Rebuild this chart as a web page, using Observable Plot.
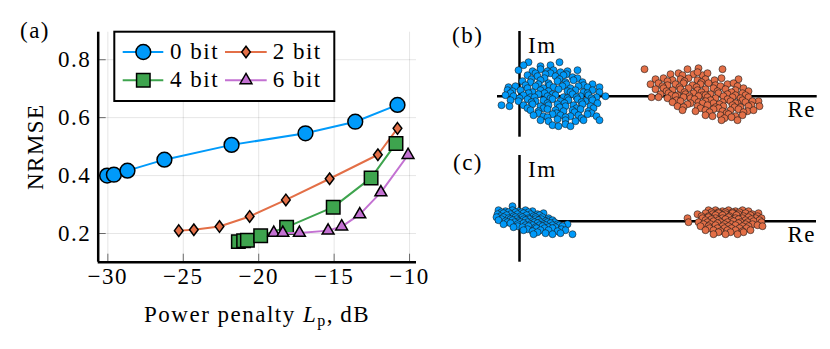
<!DOCTYPE html>
<html><head><meta charset="utf-8">
<script src="https://cdn.jsdelivr.net/npm/d3@7"></script>
<script src="https://cdn.jsdelivr.net/npm/@observablehq/plot@0.6"></script>
<style>
html,body{margin:0;padding:0;background:#fff;}
#fig{position:relative;width:830px;height:349px;overflow:hidden;background:#fff;}
</style></head><body><div id="fig"></div>
<script>
// ---------------- panel (a): NRMSE vs power penalty ----------------
const bitLabels = ["0 bit", "2 bit", "4 bit", "6 bit"];
const penalty0 = [-30.05, -29.6, -28.7, -26.25, -21.8, -16.9, -13.6, -10.8];
const nrmse0   = [0.400, 0.403, 0.417, 0.455, 0.506, 0.546, 0.586, 0.644];
const penalty2 = [-25.3, -24.3, -22.6, -20.6, -18.2, -15.3, -12.1, -10.8];
const nrmse2   = [0.210, 0.213, 0.224, 0.259, 0.316, 0.389, 0.472, 0.563];
const penalty4 = [-21.35, -21.0, -20.75, -19.87, -18.15, -15.06, -12.55, -10.9];
const nrmse4   = [0.172, 0.175, 0.177, 0.192, 0.222, 0.291, 0.392, 0.511];
const penalty6 = [-19.0, -18.4, -17.3, -15.4, -14.5, -13.3, -11.9, -10.1];
const nrmse6   = [0.202, 0.202, 0.202, 0.210, 0.224, 0.266, 0.342, 0.471];
const xTicks = [-30, -25, -20, -15, -10];
const yTicks = [0.2, 0.4, 0.6, 0.8];

// ---------------- panels (b), (c): received constellations (Re, Im offsets) ----------------
const bBlue = [[9,34],[40,34],[4,31],[21,30],[31,31],
 [-1,26],[13,25],[21,27],[28,25],[34,26],[41,24],[48,25],[58,26],
 [16,23],[31,23],[47,22],
 [8,21],[18,20],[26,22],[36,20],[44,21],[53,19],
 [12,17],[25,18],[40,17],[58,18],
 [3,15],[11,14],[21,16],[29,13],[38,15],[46,14],[54,16],[63,14],
 [6,11],[19,12],[30,11],[47,12],[64,11],[73,12],
 [-11,9],[-4,10],[8,8],[16,10],[24,8],[34,9],[43,10],[51,8],[59,10],[68,9],[80,9],
 [-12,6],[-7,5],[1,6],[13,4],[21,6],[29,5],[39,7],[48,5],[56,6],[64,4],[73,6],
 [-9,3],[9,3],[25,3],[33,2],[51,4],[68,3],[80,4],
 [-14,1],[-6,0],[4,1],[11,-1],[19,2],[28,0],[36,1],[44,-1],[53,2],[61,0],[69,1],[77,-1],[86,0],
 [0,-2],[15,-1],[31,-2],[48,-2],[57,-1],[72,-2],
 [-9,-4],[-1,-5],[8,-3],[16,-5],[24,-4],[33,-3],[41,-5],[49,-4],[58,-3],[66,-5],[73,-4],
 [12,-6],[28,-7],[45,-7],[62,-6],[78,-7],
 [-18,-9],[-10,-10],[4,-9],[13,-8],[21,-10],[29,-9],[38,-8],[46,-10],[54,-9],[63,-8],[71,-10],
 [8,-12],[24,-12],[40,-11],[57,-12],[74,-12],
 [11,-14],[19,-15],[28,-13],[36,-14],[44,-15],[53,-14],[61,-13],[69,-15],
 [19,-17],[37,-17],[55,-16],[72,-17],
 [14,-19],[24,-20],[33,-18],[41,-19],[51,-20],[59,-19],[68,-18],[77,-20],
 [28,-21],[46,-21],[62,-22],
 [21,-24],[29,-25],[38,-23],[46,-24],[56,-25],[64,-24],[80,-24],
 [33,-29],[39,-30],[46,-28],[51,-30]];
const bOrange = [[125,27],[168,27],[179,28],[203,27],
 [151,22],[159,23],[174,22],[183,21],[188,23],[163,21],[178,24],
 [136,17],[144,18],[153,16],[161,17],[169,18],[178,16],[186,17],[202,18],[219,17],
 [148,15],[165,15],[182,14],[195,16],
 [131,12],[139,13],[148,11],[156,12],[164,13],[173,11],[181,12],[189,13],[196,11],[208,12],[214,13],
 [143,10],[160,9],[177,9],[201,10],[218,10],
 [136,7],[144,8],[153,6],[161,7],[169,8],[178,6],[186,7],[194,8],[206,7],[216,6],[224,8],
 [147,5],[165,4],[182,4],[198,5],[212,4],[229,5],
 [141,2],[149,3],[158,1],[166,2],[174,3],[183,1],[191,2],[199,3],[208,2],[216,1],[223,3],
 [152,1],[170,0],[186,1],[205,-3],[226,1],
 [132,-1],[139,-1],[148,-2],[156,0],[164,-1],[171,-2],[179,0],[188,-1],[196,-2],[204,0],[213,-1],[221,-2],[229,-1],
 [157,-4],[175,-3],[191,-4],[208,-3],[223,-4],[239,-5],
 [153,-6],[161,-5],[171,-7],[179,-6],[186,-5],[194,-7],[203,-6],[211,-5],[218,-7],[226,-6],[233,-5],
 [168,-8],[183,-7],[200,-8],[216,-7],[232,-9],
 [158,-10],[164,-11],[178,-10],[188,-9],[196,-11],[204,-10],[213,-9],[221,-11],[229,-10],[240,-10],
 [181,-12],[199,-12],[215,-11],
 [163,-14],[176,-15],[186,-14],[194,-13],[203,-15],[211,-14],[219,-13],[228,-15],[234,-14],
 [190,-16],[207,-17],[224,-16],
 [186,-19],[193,-20],[201,-19],[209,-18],[216,-20],[223,-19],
 [212,-21],[205,-22],
 [202,-24],[218,-24]];
const cBlue = [[-7,15],
 [-21,11],[-14,10],[-7,11],[-1,10],[6,11],[13,10],
 [-18,9],[-11,9],[-4,9],[2,9],[9,9],
 [-22,7],[-16,8],[-9,7],[-2,7],[4,8],[11,7],[18,7],[24,8],
 [-19,5],[-13,6],[-6,5],[1,5],[7,6],[14,5],[20,6],
 [-23,4],[-16,4],[-11,3],[-4,4],[3,4],[9,3],[16,4],[23,4],[29,3],
 [-18,2],[-9,2],[-3,2],[4,2],[10,2],[16,2],[22,2],[29,1],
 [-21,1],[-14,0],[-7,1],[-1,0],[6,1],[13,0],[19,1],[26,0],[33,1],
 [-12,-1],[-5,-1],[1,-1],[8,-1],[15,-1],[21,-1],[28,-1],[35,-1],
 [-16,-3],[-9,-2],[-2,-3],[4,-2],[11,-3],[18,-2],[24,-3],[31,-2],[38,-3],[48,-3],
 [-2,-5],[6,-4],[13,-4],[20,-4],[26,-4],[33,-4],[40,-4],
 [-6,-6],[3,-6],[9,-5],[16,-6],[23,-5],[29,-6],[36,-6],[43,-5],
 [8,-8],[17,-7],[25,-7],[33,-7],[42,-8],
 [4,-9],[13,-10],[21,-9],[29,-9],[38,-10],[46,-9],
 [18,-11],[26,-12],[41,-12],
 [14,-13],[33,-13],[53,-13]];
const cOrange = [[189,11],[196,11],[203,10],[209,11],[216,10],[223,11],
 [192,9],[199,9],[206,9],[213,9],[220,9],[229,10],
 [178,7],[186,8],[193,7],[199,8],[206,7],[213,8],[219,7],[226,8],[233,7],[239,8],
 [182,5],[189,5],[196,6],[203,6],[210,5],[217,6],[224,5],[231,6],[238,5],
 [168,3],[183,3],[189,4],[196,3],[203,3],[209,4],[216,3],[223,3],[229,4],[236,3],[242,3],
 [186,1],[192,2],[199,1],[206,2],[212,1],[219,2],[226,1],[232,2],[240,1],
 [169,-1],[179,-1],[188,-1],[194,0],[201,-1],[208,-1],[214,0],[221,-1],[228,-1],[234,0],[242,-1],
 [184,-3],[191,-3],[198,-2],[205,-3],[212,-3],[219,-2],[226,-3],[233,-3],
 [181,-5],[189,-5],[196,-4],[203,-5],[209,-5],[216,-4],[223,-5],[229,-5],[238,-4],[243,-5],
 [190,-7],[198,-7],[205,-7],[212,-7],[220,-7],[227,-7],
 [186,-9],[194,-9],[201,-10],[208,-9],[216,-9],[223,-10],[231,-9],
 [199,-11],[211,-11],[224,-11],
 [194,-13],[206,-13],[218,-13]];

// ---------------- styling ----------------
const FONT = "'Liberation Serif', 'Times New Roman', serif";
const FS = 23, LS = "1.5px";
const C_BLUE = "#009AFA", C_ORANGE = "#E36F47", C_GREEN = "#3EA44E", C_PURPLE = "#C371D2";
const thinDiamond = {draw(ctx, size) {
  const h = Math.sqrt(size / 1.5), w = 0.75 * h;
  ctx.moveTo(0, -h); ctx.lineTo(w, 0); ctx.lineTo(0, h); ctx.lineTo(-w, 0); ctx.closePath();
}};
const series = [
  {label: bitLabels[0], xs: penalty0, ys: nrmse0, color: C_BLUE,   symbol: "circle",   r: 7.4},
  {label: bitLabels[1], xs: penalty2, ys: nrmse2, color: C_ORANGE, symbol: thinDiamond, r: 4.0},
  {label: bitLabels[2], xs: penalty4, ys: nrmse4, color: C_GREEN,  symbol: "square",   r: 7.6},
  {label: bitLabels[3], xs: penalty6, ys: nrmse6, color: C_PURPLE, symbol: "triangle", r: 4.4}
].map(s => ({...s, rows: s.xs.map((x, i) => ({x, y: s.ys[i]}))}));

const fig = document.getElementById("fig");
function place(node, left, top) {
  node.style.position = "absolute"; node.style.left = left + "px"; node.style.top = top + "px";
  fig.appendChild(node);
}

// ---------------- panel (a) ----------------
const aW = 440, aH = 349, mL = 97.7, mR = 24, mT = 31.7, mB = 87.3;
const innerW = aW - mL - mR, innerH = aH - mT - mB;
const xDomain = [-30.64, -9.54], yDomain = [0.101, 0.895];
const TICK = 8;
const plotA = Plot.plot({
  width: aW, height: aH, marginLeft: mL, marginRight: mR, marginTop: mT, marginBottom: mB,
  x: {domain: xDomain}, y: {domain: yDomain},
  style: {fontFamily: FONT, fontSize: FS + "px", letterSpacing: LS, background: "transparent", overflow: "visible", color: "#000"},
  marks: [
    Plot.gridX(xTicks, {stroke: "#000", strokeOpacity: 0.1, strokeWidth: 1}),
    Plot.gridY(yTicks, {stroke: "#000", strokeOpacity: 0.1, strokeWidth: 1}),
    Plot.tickX(xTicks, {x: d => d, insetTop: innerH - TICK, stroke: "#000", strokeOpacity: 0.55, strokeWidth: 1}),
    Plot.tickY(yTicks, {y: d => d, insetRight: innerW - TICK, stroke: "#000", strokeOpacity: 0.55, strokeWidth: 1}),
    Plot.axisX(xTicks, {tickSize: 0, tickPadding: 5, label: null, fontSize: FS}),
    Plot.axisY(yTicks, {tickSize: 0, tickPadding: 7, label: null, fontSize: FS, tickFormat: d3.format(".1f")}),
    ...series.flatMap(s => [
      Plot.line(s.rows, {x: "x", y: "y", stroke: s.color, strokeWidth: 2}),
      Plot.dot(s.rows, {x: "x", y: "y", r: s.r, symbol: s.symbol, fill: s.color, stroke: "#000", strokeWidth: 1.5})
    ]),
    Plot.ruleX([xDomain[0]], {stroke: "#000", strokeWidth: 2.5}),
    Plot.ruleY([yDomain[0]], {stroke: "#000", strokeWidth: 2.5})
  ]
});
place(plotA, 0, 0);

// ---------------- panels (b), (c) ----------------
function constellation(blue, orange, opts) {
  const {w, h, xDom, yDom, vExt, hExt} = opts;
  return Plot.plot({
    width: w, height: h, margin: 0,
    x: {domain: xDom, axis: null}, y: {domain: yDom, axis: null},
    style: {background: "transparent", overflow: "visible"},
    marks: [
      Plot.ruleX([0], {y1: vExt[0], y2: vExt[1], stroke: "#000", strokeWidth: 2.5}),
      Plot.ruleY([0], {x1: hExt[0], x2: hExt[1], stroke: "#000", strokeWidth: 2.5}),
      Plot.dot(blue, {x: d => d[0], y: d => d[1], r: 3.5, fill: C_BLUE, stroke: "#1a1a1a", strokeWidth: 0.6}),
      Plot.dot(orange, {x: d => d[0], y: d => d[1], r: 3.5, fill: C_ORANGE, stroke: "#1a1a1a", strokeWidth: 0.6})
    ]
  });
}
place(constellation(bBlue, bOrange, {w: 390, h: 125, xDom: [-79, 311], yDom: [-49.3, 75.7], vExt: [-41, 64.7], hExt: [-22, 297.7]}), 440, 20);
place(constellation(cBlue, cOrange, {w: 390, h: 130, xDom: [-79, 311], yDom: [-49.3, 80.7], vExt: [-41, 65.7], hExt: [-24, 297]}), 440, 140);

// ---------------- text annotations and legend ----------------
const ov = d3.create("svg").attr("width", 830).attr("height", 349)
  .style("font-family", FONT).style("font-size", FS + "px").style("letter-spacing", LS).style("pointer-events", "none");
function label(x, y, txt, anchor = "start") {
  return ov.append("text").attr("x", x).attr("y", y).attr("text-anchor", anchor).attr("fill", "#000").text(txt);
}
label(20, 37.5, "(a)");
label(452, 43, "(b)");
label(453, 170, "(c)");
label(528, 52.7, "Im");
label(816, 116.7, "Re", "end");
label(528, 176.7, "Im");
label(816, 241.7, "Re", "end");
ov.append("text").attr("transform", "translate(43.3,146.7) rotate(-90)").attr("text-anchor", "middle").text("NRMSE");
const xl = ov.append("text").attr("x", 257).attr("y", 321.7).attr("text-anchor", "middle");
xl.append("tspan").text("Power penalty ");
xl.append("tspan").attr("font-style", "italic").text("L");
xl.append("tspan").attr("dy", 4).attr("font-size", 16).text("p");
xl.append("tspan").attr("dy", -4).text(",\u2009dB");

// legend
const lg = ov.append("g");
lg.append("rect").attr("x", 114.3).attr("y", 31.7).attr("width", 220).attr("height", 69.3)
  .attr("fill", "#fff").attr("stroke", "#000").attr("stroke-width", 2);
const cols = [{x0: 122.7, x1: 163.3, m: 143.3, t: 170}, {x0: 225, x1: 266.7, m: 246, t: 272.7}];
const rowsY = [{c: 52, b: 58.7}, {c: 80.3, b: 87.3}];
const d3sym = {circle: d3.symbolCircle, square: d3.symbolSquare, triangle: d3.symbolTriangle};
series.forEach((s, i) => {
  const col = cols[i % 2], row = rowsY[Math.floor(i / 2)];
  lg.append("line").attr("x1", col.x0).attr("x2", col.x1).attr("y1", row.c).attr("y2", row.c)
    .attr("stroke", s.color).attr("stroke-width", 2);
  const type = typeof s.symbol === "string" ? d3sym[s.symbol] : s.symbol;
  lg.append("path").attr("d", d3.symbol(type, Math.PI * s.r * s.r)())
    .attr("transform", `translate(${col.m},${row.c})`)
    .attr("fill", s.color).attr("stroke", "#000").attr("stroke-width", 1.5);
  lg.append("text").attr("x", col.t).attr("y", row.b).text(s.label);
});
place(ov.node(), 0, 0);
</script>
</body></html>
